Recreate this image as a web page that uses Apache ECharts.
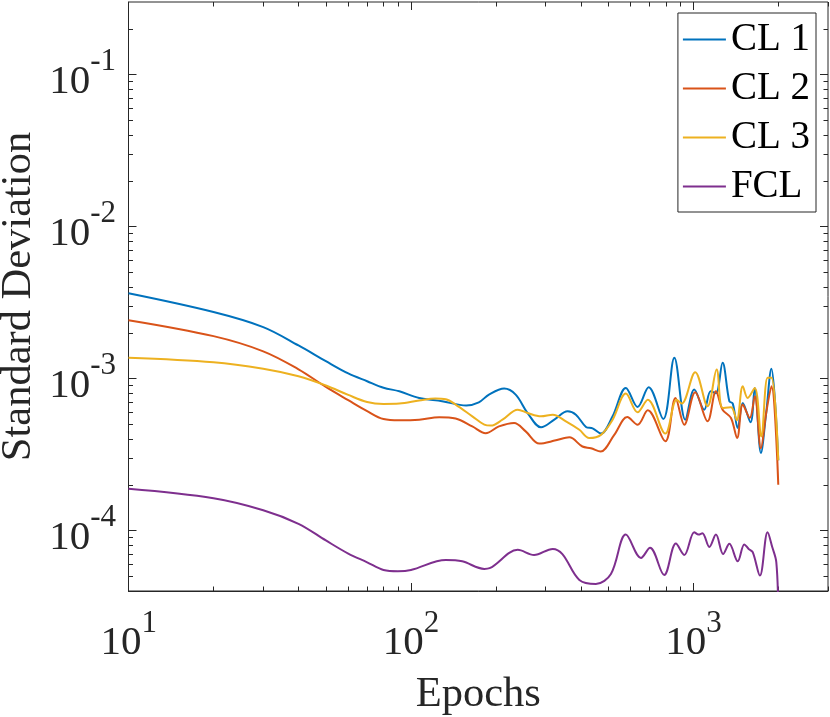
<!DOCTYPE html>
<html><head><meta charset="utf-8">
<script src="https://cdn.jsdelivr.net/npm/echarts@6/dist/echarts.min.js"></script>
<style>html,body{margin:0;padding:0;background:#fff}#c{width:830px;height:717px}</style>
</head><body><div id="c"></div>
<script>
const seriesNames = ['CL 1', 'CL 2', 'CL 3', 'FCL'];
const seriesColors = ['#0072BD', '#D95319', '#EDB120', '#7E2F8E'];

const cl1Epochs = [10,20,30,40,50,60,70,80,91,107,129,157,174,189,214,235,259,289,322,359,384,417,440,471,518,577,635,695,783,857,937,1008,1094,1152,1203,1270,1342,1380,1437,1497,1595,1651,1736,1812,1892,1942,2000];
const cl1Values = [3.64e-3,2.74e-3,2.18e-3,1.65e-3,1.30e-3,1.08e-3,0.96e-3,0.87e-3,0.824e-3,0.745e-3,0.709e-3,0.664e-3,0.697e-3,0.784e-3,0.859e-3,0.784e-3,0.593e-3,0.478e-3,0.536e-3,0.608e-3,0.578e-3,0.48e-3,0.47e-3,0.434e-3,0.564e-3,0.867e-3,0.65e-3,0.876e-3,0.541e-3,1.37e-3,0.536e-3,0.846e-3,0.624e-3,0.824e-3,0.80e-3,1.27e-3,0.709e-3,0.684e-3,0.472e-3,0.69e-3,0.515e-3,0.867e-3,0.323e-3,0.593e-3,1.16e-3,0.764e-3,0.29e-3];

const cl2Epochs = [10,20,30,40,50,60,70,80,91,107,126,144,165,184,205,232,255,285,326,364,405,434,470,525,584,635,690,796,865,929,1016,1124,1203,1270,1360,1430,1497,1585,1651,1736,1812,1892,2000];
const cl2Values = [2.42e-3,1.90e-3,1.51e-3,1.15e-3,0.88e-3,0.72e-3,0.61e-3,0.541e-3,0.531e-3,0.536e-3,0.556e-3,0.545e-3,0.484e-3,0.437e-3,0.484e-3,0.51e-3,0.449e-3,0.373e-3,0.392e-3,0.41e-3,0.357e-3,0.348e-3,0.331e-3,0.426e-3,0.558e-3,0.497e-3,0.618e-3,0.386e-3,0.745e-3,0.497e-3,0.812e-3,0.523e-3,0.824e-3,0.624e-3,0.55e-3,0.406e-3,0.674e-3,0.55e-3,0.764e-3,0.348e-3,0.593e-3,0.89e-3,0.2e-3];

const cl3Epochs = [10,20,30,40,50,60,70,80,91,107,122,133,144,165,182,192,211,239,259,289,318,354,395,428,471,518,577,635,690,796,873,910,1016,1124,1210,1270,1360,1425,1497,1558,1651,1741,1833,1892,2000];
const cl3Values = [1.37e-3,1.28e-3,1.16e-3,1.035e-3,0.90e-3,0.78e-3,0.70e-3,0.68e-3,0.684e-3,0.716e-3,0.738e-3,0.73e-3,0.674e-3,0.564e-3,0.497e-3,0.49e-3,0.536e-3,0.624e-3,0.593e-3,0.564e-3,0.578e-3,0.523e-3,0.46e-3,0.406e-3,0.426e-3,0.536e-3,0.796e-3,0.60e-3,0.726e-3,0.434e-3,0.726e-3,0.684e-3,1.10e-3,0.656e-3,1.146e-3,0.64e-3,0.646e-3,0.531e-3,0.89e-3,0.745e-3,0.867e-3,0.416e-3,1.01e-3,1.01e-3,0.29e-3];

const fclEpochs = [10,20,30,40,50,60,70,80,90,100,133,152,182,190,239,273,318,344,395,452,511,577,653,703,789,868,929,1008,1044,1077,1140,1203,1276,1342,1437,1516,1571,1624,1722,1833,1905,1968,2000];
const fclValues = [1.88e-4,1.63e-4,1.36e-4,1.107e-4,0.86e-4,0.705e-4,0.618e-4,0.55e-4,0.54e-4,0.55e-4,0.64e-4,0.627e-4,0.559e-4,0.565e-4,0.746e-4,0.69e-4,0.757e-4,0.70e-4,0.473e-4,0.445e-4,0.518e-4,0.94e-4,0.66e-4,0.77e-4,0.51e-4,0.82e-4,0.69e-4,0.975e-4,0.94e-4,0.96e-4,0.78e-4,0.94e-4,0.70e-4,0.817e-4,0.627e-4,0.81e-4,0.757e-4,0.72e-4,0.505e-4,0.975e-4,0.776e-4,0.62e-4,0.3e-4];

const xRange = [10, 3000];
const yRange = [4e-5, 0.3];
const xAxisTitle = 'Epochs';
const yAxisTitle = 'Standard Deviation';

const epochSets = [cl1Epochs, cl2Epochs, cl3Epochs, fclEpochs];
const valueSets = [cl1Values, cl2Values, cl3Values, fclValues];

const FONT = 'Liberation Serif';
const AX = '#262626';
const L10 = Math.log10;

function logTicks(lo, hi, major) {
  const out = [];
  const e0 = Math.floor(L10(lo)), e1 = Math.ceil(L10(hi));
  for (let e = e0; e <= e1; e++) {
    for (let k = 1; k <= 9; k++) {
      if (major ? k !== 1 : k === 1) continue;
      const v = k * Math.pow(10, e);
      if (v >= lo * 0.9999 && v <= hi * 1.0001) out.push(L10(v));
    }
  }
  return out;
}

const supFmt = v => '{h| }{b|10}{s|' + Math.round(L10(v)) + '}';
const rich = {
  h: { fontSize: 1, lineHeight: 56, verticalAlign: 'top' },
  b: { fontFamily: FONT, fontSize: 41, lineHeight: 40, verticalAlign: 'bottom', color: AX },
  s: { fontFamily: FONT, fontSize: 31, lineHeight: 31, verticalAlign: 'top', color: AX }
};

function overlay(pos, vals, len, range) {
  return {
    type: 'value', position: pos, min: L10(range[0]), max: L10(range[1]),
    axisLine: { show: false }, splitLine: { show: false },
    axisLabel: { show: false },
    axisTick: { show: true, inside: true, length: len, customValues: vals, lineStyle: { color: AX, width: 1 } }
  };
}

const chart = echarts.init(document.getElementById('c'), null, { renderer: 'canvas' });
chart.setOption({
  animation: false,
  backgroundColor: '#fff',
  grid: { left: 128.5, right: 2, top: 2, bottom: 126, show: true, borderColor: AX, borderWidth: 1, backgroundColor: 'transparent', containLabel: false, outerBoundsMode: 'none' },
  legend: {
    orient: 'vertical', right: 14, top: 13,
    icon: 'rect', itemWidth: 43, itemHeight: 2, itemGap: 10,
    padding: [7, 6, 6, 5],
    backgroundColor: '#fff', borderColor: AX, borderWidth: 1,
    textStyle: { fontFamily: FONT, fontSize: 39, lineHeight: 39, color: '#000' },
    data: seriesNames
  },
  xAxis: [
    {
      type: 'log', logBase: 10, position: 'bottom', min: xRange[0], max: xRange[1],
      name: xAxisTitle, nameLocation: 'middle', nameGap: 82, nameMoveOverlap: false,
      nameTextStyle: { fontFamily: FONT, fontSize: 42.5, color: AX },
      axisLine: { show: true, lineStyle: { color: AX, width: 1 } },
      axisTick: { show: true, inside: true, length: 8, lineStyle: { color: AX, width: 1 } },
      axisLabel: { formatter: supFmt, rich: rich, margin: 17, showMinLabel: true, showMaxLabel: false },
      splitLine: { show: false }, minorTick: { show: false }
    },
    overlay('bottom', logTicks(xRange[0], xRange[1], false), 4.5, xRange),
    overlay('top', logTicks(xRange[0], xRange[1], true), 8, xRange),
    overlay('top', logTicks(xRange[0], xRange[1], false), 4.5, xRange)
  ],
  yAxis: [
    {
      type: 'log', logBase: 10, position: 'left', min: yRange[0], max: yRange[1],
      name: yAxisTitle, nameLocation: 'middle', nameGap: 88.5, nameMoveOverlap: false,
      nameTextStyle: { fontFamily: FONT, fontSize: 42.5, color: AX },
      axisLine: { show: true, lineStyle: { color: AX, width: 1 } },
      axisTick: { show: true, inside: true, length: 8, lineStyle: { color: AX, width: 1 } },
      axisLabel: { formatter: supFmt, rich: rich, margin: 12.5, showMinLabel: false, showMaxLabel: false },
      splitLine: { show: false }, minorTick: { show: false }
    },
    overlay('left', logTicks(yRange[0], yRange[1], false), 4.5, yRange),
    overlay('right', logTicks(yRange[0], yRange[1], true), 8, yRange),
    overlay('right', logTicks(yRange[0], yRange[1], false), 4.5, yRange)
  ],
  series: seriesNames.map((name, i) => ({
    name: name, type: 'line', xAxisIndex: 0, yAxisIndex: 0,
    data: epochSets[i].map((e, j) => [e, valueSets[i][j]]),
    symbol: 'none', smooth: 0.35, clip: true,
    color: seriesColors[i],
    lineStyle: { color: seriesColors[i], width: 2 }
  }))
});
</script>
</body></html>
